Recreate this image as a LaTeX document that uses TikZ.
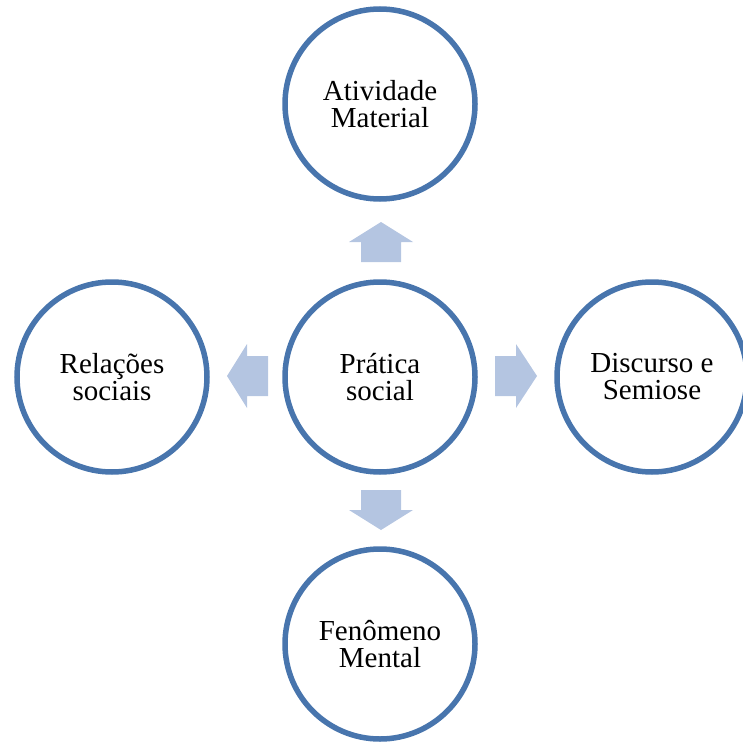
\documentclass[tikz,border=0pt]{standalone}
\usepackage{fontspec}
\setmainfont{Liberation Serif}
\definecolor{ringblue}{RGB}{72,117,173}
\definecolor{arrowblue}{RGB}{180,197,225}
\begin{document}
\begin{tikzpicture}[x=1pt,y=-1pt,
  ring/.style={circle,draw=ringblue,line width=5.5pt,fill=white,minimum size=190pt,inner sep=0pt,align=center,
    font=\fontsize{29}{27}\selectfont},
  blockarrow/.style={fill=arrowblue,draw=none}]
\useasboundingbox (0,0) rectangle (742,746);
\node[ring] (mid) at (380,377) {Prática\\social};
\node[ring] (top) at (380,104) {Atividade\\Material};
\node[ring] (bot) at (380,644) {Fenômeno\\Mental};
\node[ring] (lft) at (112,377) {Relações\\sociais};
\node[ring] (rgt) at (652,377) {Discurso e\\Semiose};
% up arrow
\fill[blockarrow] (381,222) -- (413,242) -- (401,242) -- (401,262) -- (361,262) -- (361,242) -- (349,242) -- cycle;
% down arrow
\fill[blockarrow] (381,530) -- (413,510) -- (401,510) -- (401,490) -- (361,490) -- (361,510) -- (349,510) -- cycle;
% left arrow
\fill[blockarrow] (227,376) -- (247,344) -- (247,356) -- (268,356) -- (268,396) -- (247,396) -- (247,408) -- cycle;
% right arrow
\fill[blockarrow] (537,376) -- (516,344) -- (516,356) -- (495,356) -- (495,396) -- (516,396) -- (516,408) -- cycle;
\end{tikzpicture}
\end{document}
